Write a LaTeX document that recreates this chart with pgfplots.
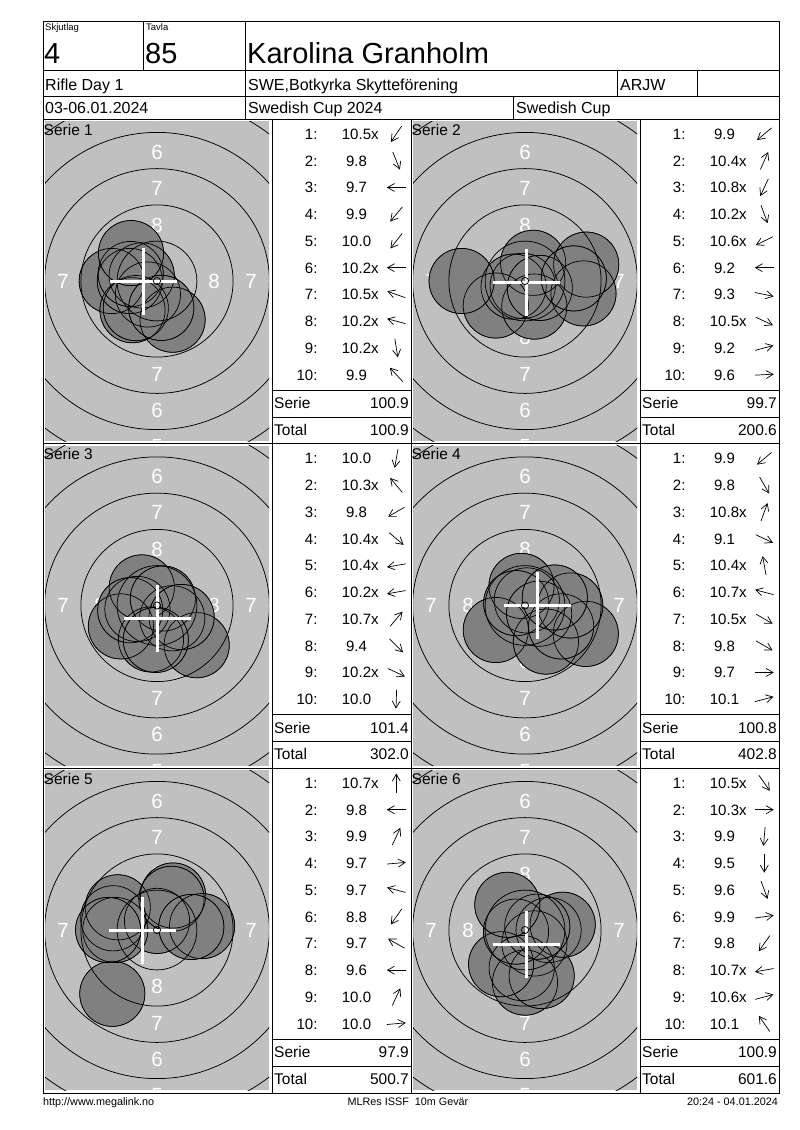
\documentclass[border=0pt]{standalone}
\usepackage{fontspec}
\setmainfont{Liberation Sans}
\usepackage{pgfplots}
\pgfplotsset{compat=1.18}
\usetikzlibrary{arrows.meta}
\definecolor{tgray}{HTML}{C0C0C0}
\definecolor{sgray}{HTML}{808080}
\newcommand\fs[1]{\fontsize{#1pt}{#1pt}\selectfont}
\newcommand\lsp{\kern0.278em}
\pgfplotsset{
  tgt/.style={anchor=center, x=1pt, y=1pt, xmin=-112, xmax=112, ymin=-160, ymax=160, hide axis, clip=false},
  shotfill/.style={only marks, mark=*, mark size=32.6pt, mark options={draw=none, fill=sgray}},
  shotline/.style={only marks, mark=o, mark size=32.6pt, mark options={draw=black, fill=none, line width=0.7pt}},
  crossl/.style={white, line width=3pt, no marks},
}
% #1 x0, #2 y0, #3 cx, #4 cy
\newcommand\panelbase[4]{%
  \fill[tgray] (#1+2,#2+2) rectangle (#1+226,#2+322);
  \begin{scope}
    \clip (#1+2,#2+2) rectangle (#1+226,#2+322);
    \foreach \d/\t in {56/8,93/7,129/6,166/5}{%
      \node[lab] at (#3,#4-\d) {\t};
      \node[lab] at (#3,#4+\d) {\t};}
    \foreach \d/\t in {57/8,94/7}{%
      \node[lab] at (#3-\d,#4) {\t};
      \node[lab] at (#3+\d,#4) {\t};}
  \end{scope}}
\newcommand\rings[4]{%
  \begin{scope}
    \clip (#1+2,#2+2) rectangle (#1+226,#2+322);
    \foreach \r in {39.9,76.1,112.4,148.6,184.9}{\draw[line width=0.75pt] (#3,#4) circle[radius=\r pt];}
  \end{scope}}
\newcommand\centerdot[2]{\draw[line width=0.75pt] (#1,#2) circle[radius=3.6pt];}
% #1 x0, #2 y0, #3 list, #4 serie, #5 total, #6 N
\newcommand\shottable[6]{%
  \node[anchor=base west, font=\fs{15.5}, inner sep=0pt] at (#1+0.5,#2+16) {Serie #6};
  \draw[line width=1pt] (#1+229,#2+271) -- (#1+368,#2+271);
  \draw[line width=1pt] (#1+229,#2+298.3) -- (#1+368,#2+298.3);
  \foreach \s/\a [count=\i] in {#3}{%
    \pgfmathsetmacro\yy{#2+15+(\i-1)*26.74}
    \node[anchor=base east, font=\fs{15}, inner sep=0pt] at (#1+274.7,\yy+5.4) {\i:};
    \node[anchor=base west, font=\fs{15}, inner sep=0pt] at (#1+298.7,\yy+5.4) {\s};
    \draw[arr] (#1+353.3,\yy) ++(\a+180:9.5pt) -- ++(\a:19pt);
  }
  \node[anchor=base west, font=\fs{15.5}, inner sep=0pt] at (#1+231,#2+289.6) {Serie};
  \node[anchor=base east, font=\fs{15.5}, inner sep=0pt] at (#1+366,#2+289.6) {#4};
  \node[anchor=base west, font=\fs{15.5}, inner sep=0pt] at (#1+231,#2+316.3) {Total};
  \node[anchor=base east, font=\fs{15.5}, inner sep=0pt] at (#1+366,#2+316.3) {#5};
}
\begin{document}
\begin{tikzpicture}[x=1pt,y=-1pt,
  lab/.style={text=white, font=\fs{20.5}, inner sep=0pt, anchor=center},
  arr/.style={line width=0.7pt, -{Straight Barb[length=7pt,width=8pt]}}]
\useasboundingbox (0,0) rectangle (800,1130);
\fill[white] (0,0) rectangle (800,1130);

% ---------------- Panel 1 ----------------
\panelbase{43}{119}{157}{281}
\begin{axis}[tgt, at={(157pt,-281pt)}]
\addplot[shotfill] coordinates {(-9.1,-13.5) (15.6,-38.7) (-45.3,0) (-24.5,-29.2) (-21.2,-27.1) (-27.2,0) (-15.3,5.6) (-26.3,7.0) (4.3,-26.9) (-26.0,27.9)};
\addplot[shotline] coordinates {(-9.1,-13.5) (15.6,-38.7) (-45.3,0) (-24.5,-29.2) (-21.2,-27.1) (-27.2,0) (-15.3,5.6) (-26.3,7.0) (4.3,-26.9) (-26.0,27.9)};
\end{axis}
\rings{43}{119}{157}{281}
\begin{axis}[tgt, at={(157pt,-281pt)}]
\addplot[crossl] coordinates {(-47.5,0) (19.5,0)};
\addplot[crossl] coordinates {(-14,-33.5) (-14,33.5)};
\end{axis}
\centerdot{157}{281}
\shottable{43}{119}{10.5x/236, \lsp9.8/292, \lsp9.7/180, \lsp9.9/230, 10.0/232, 10.2x/180, 10.5x/160, 10.2x/165, 10.2x/279, \lsp9.9/133}{100.9}{100.9}{1}

% ---------------- Panel 2 ----------------
\panelbase{411}{119}{525}{281}
\begin{axis}[tgt, at={(525pt,-281pt)}]
\addplot[shotfill] coordinates {(-29.2,-24.5) (8.1,18.2) (-2.3,-4.9) (9.3,-25.6) (-11.4,-5.6) (-63.4,0) (58.5,-12.4) (14.8,-6.9) (61.2,16.4) (48.8,2.6)};
\addplot[shotline] coordinates {(-29.2,-24.5) (8.1,18.2) (-2.3,-4.9) (9.3,-25.6) (-11.4,-5.6) (-63.4,0) (58.5,-12.4) (14.8,-6.9) (61.2,16.4) (48.8,2.6)};
\end{axis}
\rings{411}{119}{525}{281}
\begin{axis}[tgt, at={(525pt,-281pt)}]
\addplot[crossl] coordinates {(-32.5,-1) (34.5,-1)};
\addplot[crossl] coordinates {(1,-34.5) (1,32.5)};
\end{axis}
\centerdot{525}{281}
\shottable{411}{119}{\lsp9.9/220, 10.4x/66, 10.8x/245, 10.2x/290, 10.6x/206, \lsp9.2/180, \lsp9.3/348, 10.5x/335, \lsp9.2/15, \lsp9.6/3}{99.7}{200.6}{2}

% ---------------- Panel 3 ----------------
\panelbase{43}{443.5}{157}{605.5}
\begin{axis}[tgt, at={(157pt,-605.5pt)}]
\addplot[shotfill] coordinates {(-6.0,-33.9) (-15.2,18.1) (-36.1,-20.9) (15.2,-12.8) (-19.6,-3.5) (-26.8,-4.7) (5.8,7.0) (39.7,-39.7) (24.6,-11.5) (-1.2,-34.4)};
\addplot[shotline] coordinates {(-6.0,-33.9) (-15.2,18.1) (-36.1,-20.9) (15.2,-12.8) (-19.6,-3.5) (-26.8,-4.7) (5.8,7.0) (39.7,-39.7) (24.6,-11.5) (-1.2,-34.4)};
\end{axis}
\rings{43}{443.5}{157}{605.5}
\begin{axis}[tgt, at={(157pt,-605.5pt)}]
\addplot[crossl] coordinates {(-33.5,-13) (33.5,-13)};
\addplot[crossl] coordinates {(0,-46.5) (0,20.5)};
\end{axis}
\centerdot{157}{605.5}
\shottable{43}{443.5}{10.0/260, 10.3x/130, \lsp9.8/210, 10.4x/320, 10.4x/190, 10.2x/190, 10.7x/50, \lsp9.4/315, 10.2x/335, 10.0/268}{101.4}{302.0}{3}

% ---------------- Panel 4 ----------------
\panelbase{411}{443.5}{525}{605.5}
\begin{axis}[tgt, at={(525pt,-605.5pt)}]
\addplot[shotfill] coordinates {(-29.2,-24.5) (20.9,-36.1) (1.8,5.1) (60.8,-28.4) (-3.5,19.6) (-8.8,2.4) (14.1,-8.2) (36.1,-20.9) (45.3,0) (29.8,8.0)};
\addplot[shotline] coordinates {(-29.2,-24.5) (20.9,-36.1) (1.8,5.1) (60.8,-28.4) (-3.5,19.6) (-8.8,2.4) (14.1,-8.2) (36.1,-20.9) (45.3,0) (29.8,8.0)};
\end{axis}
\rings{411}{443.5}{525}{605.5}
\begin{axis}[tgt, at={(525pt,-605.5pt)}]
\addplot[crossl] coordinates {(-21.5,0) (45.5,0)};
\addplot[crossl] coordinates {(12,-33.5) (12,33.5)};
\end{axis}
\centerdot{525}{605.5}
\shottable{411}{443.5}{\lsp9.9/220, \lsp9.8/300, 10.8x/70, \lsp9.1/335, 10.4x/100, 10.7x/165, 10.5x/330, \lsp9.8/330, \lsp9.7/0, 10.1/15}{100.8}{402.8}{4}

% ---------------- Panel 5 ----------------
\panelbase{43}{768}{157}{930}
\begin{axis}[tgt, at={(157pt,-930pt)}]
\addplot[shotfill] coordinates {(0,9.1) (-41.7,0) (16.1,34.5) (45.1,3.9) (-43.8,11.7) (-44.7,-63.8) (-39.2,22.7) (-48.9,0) (14.5,31.2) (34.3,3.0)};
\addplot[shotline] coordinates {(0,9.1) (-41.7,0) (16.1,34.5) (45.1,3.9) (-43.8,11.7) (-44.7,-63.8) (-39.2,22.7) (-48.9,0) (14.5,31.2) (34.3,3.0)};
\end{axis}
\rings{43}{768}{157}{930}
\begin{axis}[tgt, at={(157pt,-930pt)}]
\addplot[crossl] coordinates {(-48.5,0) (18.5,0)};
\addplot[crossl] coordinates {(-15,-33.5) (-15,33.5)};
\end{axis}
\centerdot{157}{930}
\shottable{43}{768}{10.7x/90, \lsp9.8/180, \lsp9.9/65, \lsp9.7/5, \lsp9.7/165, \lsp8.8/235, \lsp9.7/150, \lsp9.6/180, 10.0/65, 10.0/5}{97.9}{500.7}{5}

% ---------------- Panel 6 ----------------
\panelbase{411}{768}{525}{930}
\begin{axis}[tgt, at={(525pt,-930pt)}]
\addplot[shotfill] coordinates {(9.4,-13.4) (23.6,0) (-3.3,-38.0) (0,-52.6) (16.7,-46.0) (37.7,5.3) (-23.9,-34.2) (-9.0,-1.6) (12.3,3.3) (-17.7,25.2)};
\addplot[shotline] coordinates {(9.4,-13.4) (23.6,0) (-3.3,-38.0) (0,-52.6) (16.7,-46.0) (37.7,5.3) (-23.9,-34.2) (-9.0,-1.6) (12.3,3.3) (-17.7,25.2)};
\end{axis}
\rings{411}{768}{525}{930}
\begin{axis}[tgt, at={(525pt,-930pt)}]
\addplot[crossl] coordinates {(-32.5,-14.5) (34.5,-14.5)};
\addplot[crossl] coordinates {(1,-48) (1,19)};
\end{axis}
\centerdot{525}{930}
\shottable{411}{768}{10.5x/305, 10.3x/0, \lsp9.9/265, \lsp9.5/270, \lsp9.6/290, \lsp9.9/8, \lsp9.8/235, 10.7x/190, 10.6x/15, 10.1/125}{100.9}{601.6}{6}

% ---------------- Frame and header ----------------
\begin{scope}[line width=1pt]
\draw (43,21.5) rectangle (779,1093);
\draw (43,70) -- (779,70);
\draw (43,96.5) -- (779,96.5);
\draw (43,119) -- (779,119);
\draw (43,443.5) -- (779,443.5);
\draw (43,768) -- (779,768);
\draw (143,21.5) -- (143,70);
\draw (245,21.5) -- (245,119);
\draw (617,70) -- (617,96.5);
\draw (697,70) -- (697,96.5);
\draw (513,96.5) -- (513,119);
\draw (272,119) -- (272,1093);
\draw (411,119) -- (411,1093);
\draw (640,119) -- (640,1093);
\end{scope}
\node[anchor=north west, font=\fs{9.5}, inner sep=0pt] at (45,23.5) {Skjutlag};
\node[anchor=north west, font=\fs{9.5}, inner sep=0pt] at (146,23.5) {Tavla};
\node[anchor=base west, font=\fs{29}, inner sep=0pt] at (44,63) {4};
\node[anchor=base west, font=\fs{29}, inner sep=0pt] at (145,63) {85};
\node[anchor=base west, font=\fs{29}, inner sep=0pt] at (247,63.5) {Karolina Granholm};
\node[anchor=base west, font=\fs{16}, inner sep=0pt] at (45,90) {Rifle Day 1};
\node[anchor=base west, font=\fs{16}, inner sep=0pt] at (248,90) {SWE,Botkyrka Skytteförening};
\node[anchor=base west, font=\fs{16}, inner sep=0pt] at (620,90) {ARJW};
\node[anchor=base west, font=\fs{16}, inner sep=0pt] at (45,113.5) {03-06.01.2024};
\node[anchor=base west, font=\fs{16}, inner sep=0pt] at (248,113.5) {Swedish Cup 2024};
\node[anchor=base west, font=\fs{16}, inner sep=0pt] at (516,113.5) {Swedish Cup};
% footer
\node[anchor=base west, font=\fs{10.8}, inner sep=0pt] at (43,1105.5) {http://www.megalink.no};
\node[anchor=base, font=\fs{10.8}, inner sep=0pt] at (408,1105.5) {MLRes ISSF\ \ 10m Gevär};
\node[anchor=base east, font=\fs{10.8}, inner sep=0pt] at (778,1105.5) {20:24 - 04.01.2024};
\end{tikzpicture}
\end{document}
